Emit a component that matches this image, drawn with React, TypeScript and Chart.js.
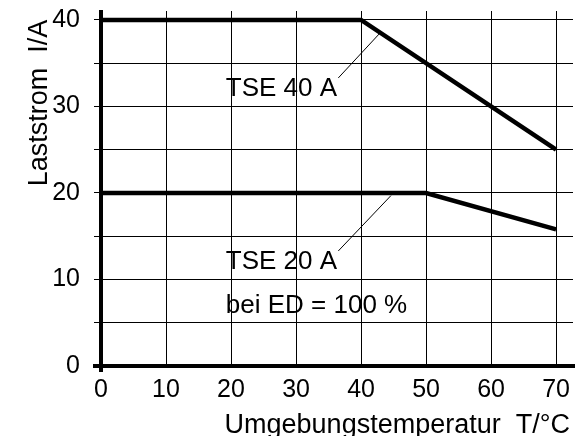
import React, { useEffect, useRef } from 'react';
import { Chart, registerables } from 'chart.js';

Chart.register(...registerables);

// ---- data ----
const tempTSE40 = [0, 40, 70];
const currentTSE40 = [40, 40, 25];
const tempTSE20 = [0, 50, 70];
const currentTSE20 = [20, 20, 15.8];

const leader40X = [36.5, 42.8];
const leader40Y = [33.3, 38.4];
const leader20X = [36.5, 44.6];
const leader20Y = [13.3, 19.7];

const annotationTexts = ['TSE 40 A', 'TSE 20 A', 'bei ED = 100 %'];
const annotationX = [19.2, 19.2, 19.2];
const annotationY = [31.25, 11.18, 6.16];

const xTickValues = [0, 10, 20, 30, 40, 50, 60, 70];
const yTickLabels = [0, 10, 20, 30, 40];
const xRange = [0, 72.6];
const yRange = [0, 41.04];

const xTitle = 'Umgebungstemperatur  T/°C';
const yTitle = 'Laststrom  I/A';

const FONT = "'Liberation Sans', Arial, Helvetica, sans-serif";

const toPoints = (xs: number[], ys: number[]) => xs.map((x, i) => ({ x, y: ys[i] }));

const decorPlugin = {
  id: 'decor',
  afterDatasetsDraw(chart: any) {
    const { ctx, chartArea, scales } = chart;
    const xs = scales.x;
    const ys = scales.y;
    const x0 = xs.getPixelForValue(0);
    const y0 = ys.getPixelForValue(0);
    ctx.save();
    // thick axes
    ctx.strokeStyle = '#000';
    ctx.lineWidth = 4;
    ctx.lineCap = 'butt';
    ctx.beginPath();
    ctx.moveTo(x0, chartArea.top - 1);
    ctx.lineTo(x0, y0 + 6);
    ctx.stroke();
    ctx.beginPath();
    ctx.moveTo(x0 - 8, y0);
    ctx.lineTo(chartArea.right + 2, y0);
    ctx.stroke();

    // annotation texts
    ctx.fillStyle = '#000';
    ctx.font = `26px ${FONT}`;
    ctx.textAlign = 'left';
    ctx.textBaseline = 'alphabetic';
    annotationTexts.forEach((t, i) => {
      ctx.fillText(t, xs.getPixelForValue(annotationX[i]), ys.getPixelForValue(annotationY[i]));
    });

    // axis titles
    ctx.font = `27px ${FONT}`;
    ctx.textAlign = 'right';
    ctx.fillText(xTitle, chartArea.right - 3, chart.height - 3.5);
    ctx.translate(47, 103);
    ctx.rotate(-Math.PI / 2);
    ctx.textAlign = 'center';
    ctx.fillText(yTitle, 0, 0);
    ctx.restore();
  },
};

export default function App() {
  const ref = useRef<HTMLCanvasElement | null>(null);

  useEffect(() => {
    if (!ref.current) return;
    Chart.defaults.font.family = FONT;
    Chart.defaults.color = '#000';
    const gridColor = '#000';
    const chart = new Chart(ref.current, {
      type: 'line',
      data: {
        datasets: [
          {
            label: 'TSE 40 A',
            data: toPoints(tempTSE40, currentTSE40),
            borderColor: '#000',
            borderWidth: 4.5,
            pointRadius: 0,
            tension: 0,
          },
          {
            label: 'TSE 20 A',
            data: toPoints(tempTSE20, currentTSE20),
            borderColor: '#000',
            borderWidth: 4.5,
            pointRadius: 0,
            tension: 0,
          },
          {
            label: 'leader40',
            data: toPoints(leader40X, leader40Y),
            borderColor: '#000',
            borderWidth: 1,
            pointRadius: 0,
          },
          {
            label: 'leader20',
            data: toPoints(leader20X, leader20Y),
            borderColor: '#000',
            borderWidth: 1,
            pointRadius: 0,
          },
        ],
      },
      options: {
        animation: false,
        responsive: false,
        layout: { padding: { top: 11, right: 12, left: 0, bottom: 0 } },
        plugins: {
          legend: { display: false },
          tooltip: { enabled: false },
        },
        scales: {
          x: {
            type: 'linear',
            min: xRange[0],
            max: xRange[1],
            border: { display: false },
            grid: { color: gridColor, lineWidth: 1, drawTicks: false },
            ticks: {
              stepSize: 10,
              includeBounds: false,
              padding: 12,
              font: { size: 25, lineHeight: 1 },
              color: '#000',
              maxRotation: 0,
              autoSkip: false,
              callback: (v: any) => (xTickValues.includes(Number(v)) ? String(v) : ''),
            },
            afterFit: (s: any) => {
              s.height = 70;
              s.paddingLeft = 0;
              s.paddingRight = 0;
              s.paddingTop = 0;
              s.paddingBottom = 0;
            },
          },
          y: {
            type: 'linear',
            min: yRange[0],
            max: yRange[1],
            border: { display: false },
            grid: { color: gridColor, lineWidth: 1, drawTicks: true, tickLength: 7 },
            ticks: {
              stepSize: 5,
              includeBounds: false,
              padding: 14,
              font: { size: 25, lineHeight: 1 },
              color: '#000',
              autoSkip: false,
              callback: (v: any) => (yTickLabels.includes(Number(v)) ? String(v) : ''),
            },
            afterFit: (s: any) => {
              s.width = 101;
              s.paddingLeft = 0;
              s.paddingRight = 0;
              s.paddingTop = 0;
              s.paddingBottom = 0;
            },
          },
        },
      } as any,
      plugins: [decorPlugin],
    });
    return () => chart.destroy();
  }, []);

  return (
    <div style={{ position: 'absolute', left: 0, top: 0, width: 585, height: 436, background: '#fff' }}>
      <canvas ref={ref} width={585} height={436} style={{ display: 'block' }} />
    </div>
  );
}
